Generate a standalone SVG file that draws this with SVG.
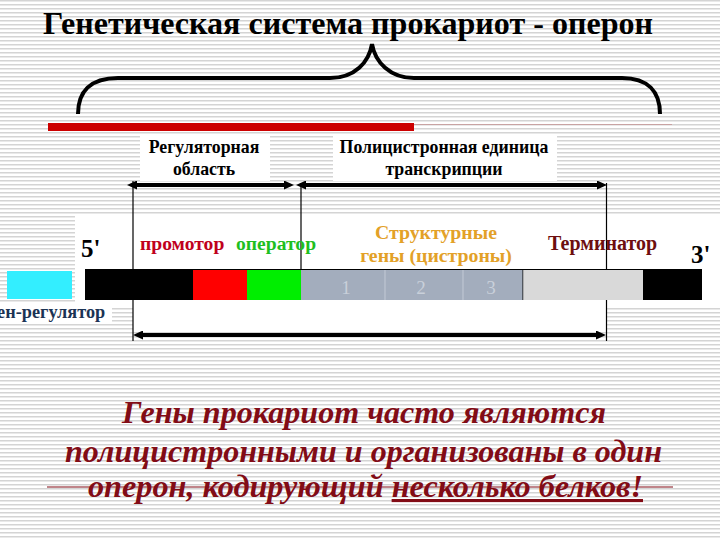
<svg xmlns="http://www.w3.org/2000/svg" width="720" height="540" viewBox="0 0 720 540">
  <defs>
    <pattern id="stripes" width="8" height="4" patternUnits="userSpaceOnUse">
      <rect width="8" height="4" fill="#ffffff"/>
      <rect y="0" width="8" height="1.5" fill="#d4d4d4"/>
    </pattern>
    <marker id="ah" viewBox="0 0 10 9" refX="4" refY="4.5" markerWidth="10" markerHeight="9" markerUnits="userSpaceOnUse" orient="auto-start-reverse">
      <path d="M0,0 L10,4.5 L0,9 z" fill="#000"/>
    </marker>
    <style>
      text { font-family: 'Liberation Serif', 'DejaVu Serif', 'Times New Roman', serif; }
      .lbl { font-weight: bold; }
      .arr { stroke: #000; stroke-width: 4; fill: none; marker-start: url(#ah); marker-end: url(#ah); }
      .vl { stroke: #000; stroke-width: 1.2; }
      .num { font-size: 19px; fill: #c9d0da; text-anchor: middle; }
      .bottom { font-weight: bold; font-style: italic; font-size: 31px; fill: #820c16; }
    </style>
  </defs>

  <rect width="720" height="540" fill="url(#stripes)"/>

  <g id="backgrounds" fill="#ffffff">
    <rect x="140" y="136" width="130" height="45"/>
    <rect x="333" y="136" width="224" height="45"/>
    <rect x="75" y="214" width="645" height="92"/>
    <rect x="133" y="300" width="473" height="30"/>
    <rect x="0" y="303" width="112" height="21"/>
  </g>

  <g id="title">
    <text class="lbl" x="43" y="34" font-size="32" textLength="610" lengthAdjust="spacingAndGlyphs" fill="#000">Генетическая система прокариот - оперон</text>
  </g>

  <g id="brace">
    <path d="M78,114 C78,92 90,78 118,78 L330,78 C355,78 369,62 372,44 C375,62 390,78 414,78 L622,78 C648,78 660,92 660,114" fill="none" stroke="#000" stroke-width="4"/>
  </g>

  <g id="red-bar">
    <rect x="48" y="123" width="366" height="8" fill="#cc0000"/>
    <line x1="414" y1="124.5" x2="672" y2="124.5" stroke="#c9a3a3" stroke-width="1"/>
  </g>

  <g id="label-regulatory">
    <text class="lbl" x="204" y="153" font-size="17.8" text-anchor="middle" fill="#000">Регуляторная</text>
    <text class="lbl" x="204" y="175" font-size="17.8" text-anchor="middle" fill="#000">область</text>
  </g>

  <g id="label-unit">
    <text class="lbl" x="444" y="153" font-size="17.8" text-anchor="middle" fill="#000">Полицистронная единица</text>
    <text class="lbl" x="444" y="175" font-size="17.8" text-anchor="middle" fill="#000">транскрипции</text>
  </g>

  <g id="connectors">
    <line class="vl" x1="133" y1="181" x2="133" y2="341"/>
    <line class="vl" x1="301" y1="183" x2="301" y2="270"/>
    <line class="vl" x1="606.5" y1="183" x2="606.5" y2="341"/>
    <line class="arr" x1="133" y1="185" x2="288" y2="185"/>
    <line class="arr" x1="302" y1="185" x2="601" y2="185"/>
    <line class="arr" x1="139" y1="335" x2="600" y2="335"/>
  </g>

  <g id="gene-regulator">
    <rect x="7" y="271" width="65" height="28" fill="#33eeff"/>
    <text class="lbl" x="-11" y="318" font-size="18.3" fill="#1b3354">ген-регулятор</text>
  </g>

  <g id="five-prime">
    <text class="lbl" x="81" y="257" font-size="25" fill="#000">5'</text>
  </g>

  <g id="dna-bar">
    <rect x="85" y="270" width="108" height="30" fill="#000"/>
    <rect x="193" y="270" width="54" height="30" fill="#ff0000"/>
    <rect x="247" y="270" width="54" height="30" fill="#00ee00"/>
    <rect x="301" y="270" width="222" height="30" fill="#a3adbd"/>
    <line x1="385" y1="270" x2="385" y2="300" stroke="#c3cad6" stroke-width="1"/>
    <line x1="463" y1="270" x2="463" y2="300" stroke="#c3cad6" stroke-width="1"/>
    <line x1="523" y1="270" x2="523" y2="300" stroke="#000" stroke-width="1"/>
    <rect x="523.5" y="270" width="120" height="30" fill="#d9d9d9"/>
    <rect x="643" y="270" width="59" height="30" fill="#000"/>
    <line x1="85" y1="269.5" x2="702" y2="269.5" stroke="#000" stroke-width="1.2"/>
    <text class="num" x="346" y="294">1</text>
    <text class="num" x="421" y="294">2</text>
    <text class="num" x="491" y="294">3</text>
  </g>

  <g id="promoter">
    <text class="lbl" x="140" y="250" font-size="19.6" fill="#c0001c">промотор</text>
  </g>
  <g id="operator">
    <text class="lbl" x="236" y="250" font-size="19.6" fill="#1fbf1f">оператор</text>
  </g>

  <g id="structural-genes">
    <text class="lbl" x="436" y="239" font-size="19.8" text-anchor="middle" fill="#e3a128">Структурные</text>
    <text class="lbl" x="436" y="262" font-size="19.8" text-anchor="middle" fill="#e3a128">гены (цистроны)</text>
  </g>

  <g id="terminator">
    <text class="lbl" x="548" y="250" font-size="20" fill="#6e0f0f">Терминатор</text>
  </g>

  <g id="three-prime">
    <text class="lbl" x="691" y="263" font-size="25" fill="#000">3'</text>
  </g>

  <g id="conclusion">
    <line x1="47" y1="487" x2="673" y2="487" stroke="#820c16" stroke-width="1.2"/>
    <text class="bottom" x="122" y="423" textLength="484" lengthAdjust="spacingAndGlyphs">Гены прокариот часто являются</text>
    <text class="bottom" x="65" y="462" textLength="597" lengthAdjust="spacingAndGlyphs">полицистронными и организованы в один</text>
    <text class="bottom" x="88" y="497" textLength="555" lengthAdjust="spacingAndGlyphs">оперон, кодирующий <tspan text-decoration="underline">несколько белков!</tspan></text>
  </g>
</svg>
